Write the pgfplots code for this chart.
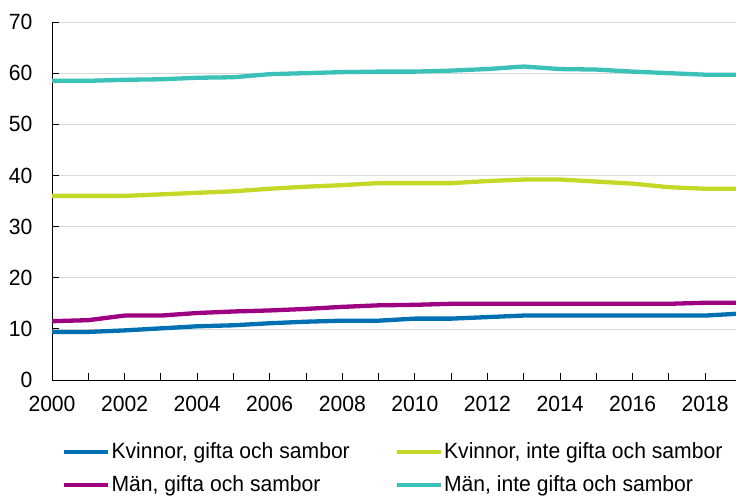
\documentclass[border=0pt]{standalone}
\usepackage{pgfplots}
\pgfplotsset{compat=1.18}
\usepackage{fontspec}
\setmainfont{Liberation Sans}[FakeStretch=0.96]
\definecolor{cblue}{RGB}{0,112,178}
\definecolor{cgreen}{RGB}{196,216,40}
\definecolor{cpurple}{RGB}{158,0,130}
\definecolor{cteal}{RGB}{58,194,184}
\begin{document}
\fontsize{22pt}{26pt}\selectfont
\begin{tikzpicture}
\path[use as bounding box] (-52pt,-116pt) rectangle (684pt,380pt);
\begin{axis}[
  at={(0,0)}, anchor=south west,
  scale only axis,
  width=684pt, height=358pt,
  xmin=2000, xmax=2018.85,
  ymin=0, ymax=70,
  axis x line*=bottom, axis y line*=left,
  axis line style={black, line width=1pt},
  xtick={2000,2002,...,2018},
  minor xtick={2001,2003,...,2019},
  ytick={0,10,...,70},
  tick align=inside,
  major tick length=7pt, minor tick length=7pt,
  tick style={black, line width=1pt},
  ymajorgrids, grid style={gray!30, line width=0.6pt},
  xticklabel style={/pgf/number format/1000 sep={}},
  /pgf/number format/assume math mode=true,
  tick label style={font=\fontsize{22pt}{26pt}\selectfont},
  xticklabel shift=9pt, yticklabel shift=12pt,
  legend columns=2,
  legend style={draw=none, fill=none, inner sep=0pt,
    at={(10pt,-60pt)}, anchor=north west,
    font=\fontsize{22pt}{26pt}\selectfont,
    column sep=0pt,
    nodes={inner xsep=1pt, inner ysep=2pt},
    /tikz/every even column/.append style={column sep=44pt},
    row sep=10pt},
  legend cell align=left,
  legend image code/.code={\draw[#1, line width=4.3pt] (0pt,0pt) -- (44pt,0pt);},
  every axis plot/.append style={line width=4.3pt, line join=round},
  clip=true,
]
\addplot[cblue] coordinates {(2000,9.4)(2001,9.4)(2002,9.7)(2003,10.1)(2004,10.5)(2005,10.7)(2006,11.1)(2007,11.4)(2008,11.6)(2009,11.6)(2010,12.0)(2011,12.0)(2012,12.3)(2013,12.6)(2014,12.6)(2015,12.6)(2016,12.6)(2017,12.6)(2018,12.6)(2019,13.0)};
\addlegendentry{Kvinnor, gifta och sambor}
\addplot[cgreen] coordinates {(2000,36.0)(2001,36.0)(2002,36.0)(2003,36.3)(2004,36.6)(2005,36.9)(2006,37.4)(2007,37.8)(2008,38.1)(2009,38.5)(2010,38.5)(2011,38.5)(2012,38.9)(2013,39.2)(2014,39.2)(2015,38.8)(2016,38.4)(2017,37.7)(2018,37.4)(2019,37.4)};
\addlegendentry{Kvinnor, inte gifta och sambor}
\addplot[cpurple] coordinates {(2000,11.5)(2001,11.7)(2002,12.6)(2003,12.6)(2004,13.1)(2005,13.4)(2006,13.6)(2007,13.9)(2008,14.3)(2009,14.6)(2010,14.7)(2011,14.9)(2012,14.9)(2013,14.9)(2014,14.9)(2015,14.9)(2016,14.9)(2017,14.9)(2018,15.1)(2019,15.1)};
\addlegendentry{Män, gifta och sambor}
\addplot[cteal] coordinates {(2000,58.5)(2001,58.5)(2002,58.7)(2003,58.8)(2004,59.1)(2005,59.2)(2006,59.8)(2007,60.0)(2008,60.2)(2009,60.3)(2010,60.3)(2011,60.5)(2012,60.8)(2013,61.3)(2014,60.8)(2015,60.7)(2016,60.3)(2017,60.0)(2018,59.7)(2019,59.7)};
\addlegendentry{Män, inte gifta och sambor}
\end{axis}
\end{tikzpicture}
\end{document}
